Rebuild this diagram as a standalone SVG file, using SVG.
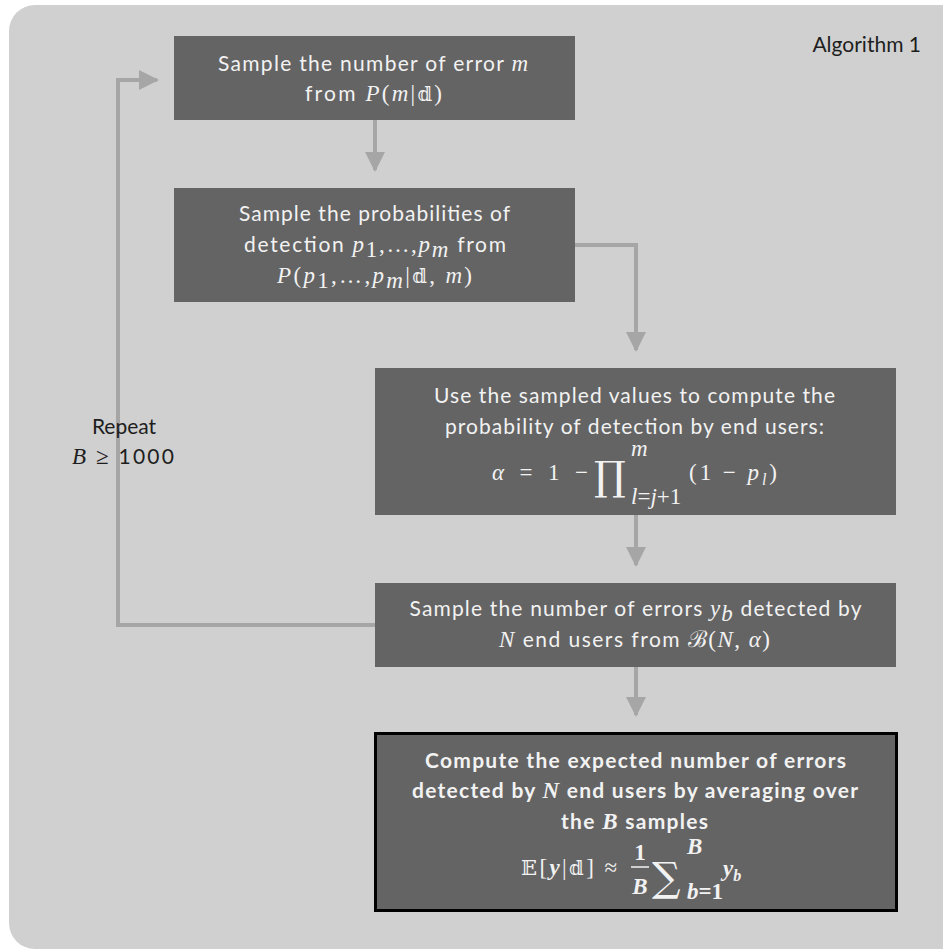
<svg xmlns="http://www.w3.org/2000/svg" width="943" height="951" viewBox="0 0 943 951">
<style>
.bg{fill:#d0d0d0}
.box{fill:#646464}
.t{font-family:Lato,"Open Sans",sans-serif;font-size:21px;fill:#f2f2f2;text-anchor:middle}
.b{font-weight:bold}
.m{font-family:"Liberation Serif","DejaVu Serif",serif;font-style:italic;font-size:23px}
.mr{font-family:"Liberation Serif","DejaVu Serif",serif;font-size:23px}
.ds{font-family:"DejaVu Serif","DejaVu Sans",serif;font-style:normal;font-size:21px}
.f{font-family:"Liberation Serif","DejaVu Serif",serif;font-size:23px;fill:#f2f2f2}
.op{font-family:"DejaVu Serif",serif;fill:#f2f2f2}
.lab{font-family:Lato,"Open Sans",sans-serif;font-size:21px;fill:#1e1e1e}
.c{fill:none;stroke:#a6a6a6;stroke-width:4}
</style>
<defs>
<marker id="ah" markerWidth="6" markerHeight="6" refX="4.5" refY="3" orient="auto" markerUnits="strokeWidth" viewBox="0 0 6 6">
<path d="M0,0.5 L5,3 L0,5.5 Z" fill="#a6a6a6"/>
</marker>
</defs>
<rect class="bg" x="9" y="5" width="960" height="944" rx="26" ry="26"/>
<text class="lab" x="921" y="52" text-anchor="end">Algorithm 1</text>
<g id="connectors">
<line class="c" x1="375" y1="120" x2="375" y2="170" marker-end="url(#ah)"/>
<polyline class="c" points="575,245 636,245 636,350" marker-end="url(#ah)"/>
<line class="c" x1="636" y1="515" x2="636" y2="565" marker-end="url(#ah)"/>
<line class="c" x1="636" y1="667" x2="636" y2="715" marker-end="url(#ah)"/>
<polyline class="c" points="375,625 118,625 118,80 157,80" marker-end="url(#ah)"/>
</g>
<g id="repeat">
<text class="lab" x="124" y="434" text-anchor="middle">Repeat</text>
<text class="lab" x="123" y="464" text-anchor="middle" textLength="102"><tspan class="m" font-size="22">B</tspan> <tspan class="mr" font-size="22">≥</tspan> 1000</text>
</g>
<g id="n1">
<rect class="box" x="174" y="36" width="401" height="84"/>
<text class="t" x="373" y="71" textLength="310">Sample the number of error <tspan class="m">m</tspan></text>
<text class="t" x="373.5" y="101" textLength="137">from <tspan class="m">P</tspan><tspan class="mr">(</tspan><tspan class="m">m</tspan><tspan class="mr">|</tspan><tspan class="ds">𝕕</tspan><tspan class="mr">)</tspan></text>
</g>
<g id="n2">
<rect class="box" x="174" y="188" width="401" height="114"/>
<text class="t" x="374.5" y="221" textLength="271">Sample the probabilities of</text>
<text class="t" x="375" y="252" textLength="262">detection <tspan class="m">p</tspan><tspan class="mr" font-size="16" dy="5">1</tspan><tspan class="mr" dy="-5">,…,</tspan><tspan class="m">p</tspan><tspan class="m" font-size="16" dy="5">m</tspan><tspan dy="-5"> from</tspan></text>
<text class="t" x="374.5" y="283" textLength="195"><tspan class="m">P</tspan><tspan class="mr">(</tspan><tspan class="m">p</tspan><tspan class="mr" font-size="16" dy="5">1</tspan><tspan class="mr" dy="-5">,…,</tspan><tspan class="m">p</tspan><tspan class="m" font-size="16" dy="5">m</tspan><tspan class="mr" dy="-5">|</tspan><tspan class="ds">𝕕</tspan><tspan class="mr">, </tspan><tspan class="m">m</tspan><tspan class="mr">)</tspan></text>
</g>
<g id="n3">
<rect class="box" x="375" y="368" width="521" height="147"/>
<text class="t" x="634.5" y="403" textLength="401">Use the sampled values to compute the</text>
<text class="t" x="634.5" y="434" textLength="379">probability of detection by end users:</text>
<text class="f" x="492" y="480" textLength="96"><tspan font-style="italic">α</tspan> =  1 −</text>
<text class="op" x="594" y="490" font-size="40">∏</text>
<text class="f" x="631" y="456" font-size="16" font-style="italic">m</text>
<text class="f" x="631" y="504" font-size="16" font-style="italic">l<tspan font-style="normal">=</tspan>j<tspan font-style="normal">+1</tspan></text>
<text class="f" x="689" y="480" textLength="88">(1 − <tspan font-style="italic">p</tspan><tspan font-style="italic" font-size="16" dy="5">l</tspan><tspan dy="-5">)</tspan></text>
</g>
<g id="n4">
<rect class="box" x="375" y="583" width="521" height="84"/>
<text class="t" x="635.5" y="616" textLength="452">Sample the number of errors <tspan class="m">y</tspan><tspan class="m" font-size="16" dy="5">b</tspan><tspan dy="-5"> detected by</tspan></text>
<text class="t" x="634.5" y="647" textLength="271"><tspan class="m">N</tspan> end users  from <tspan class="mr">ℬ(</tspan><tspan class="m">N</tspan><tspan class="mr">, </tspan><tspan class="m">α</tspan><tspan class="mr">)</tspan></text>
</g>
<g id="n5">
<rect class="box" x="375.5" y="733.5" width="521" height="177" stroke="#000" stroke-width="3"/>
<text class="t b" x="635.5" y="768" textLength="421">Compute the expected number of errors</text>
<text class="t b" x="635" y="798" textLength="446">detected by <tspan class="m">N</tspan> end users by averaging over</text>
<text class="t b" x="634.5" y="829" textLength="147">the <tspan class="m">B</tspan> samples</text>
<text class="f" x="521" y="875" textLength="96"><tspan class="ds">𝔼</tspan>[<tspan font-style="italic" font-weight="bold">y</tspan>|<tspan class="ds">𝕕</tspan>] ≈</text>
<text class="f" x="640" y="860" font-weight="bold" text-anchor="middle">1</text>
<line x1="631" y1="867" x2="649" y2="867" stroke="#f2f2f2" stroke-width="1.5"/>
<text class="f" x="640" y="894" font-weight="bold" font-style="italic" text-anchor="middle">B</text>
<text class="op" x="652" y="891" font-size="40">∑</text>
<text class="f" x="687" y="854" font-size="16" font-weight="bold" font-style="italic">B</text>
<text class="f" x="687" y="899" font-size="16" font-weight="bold"><tspan font-style="italic">b</tspan>=1</text>
<text class="f" x="723" y="876" font-weight="bold" font-style="italic">y<tspan font-size="16" dy="5">b</tspan></text>
</g>
</svg>
